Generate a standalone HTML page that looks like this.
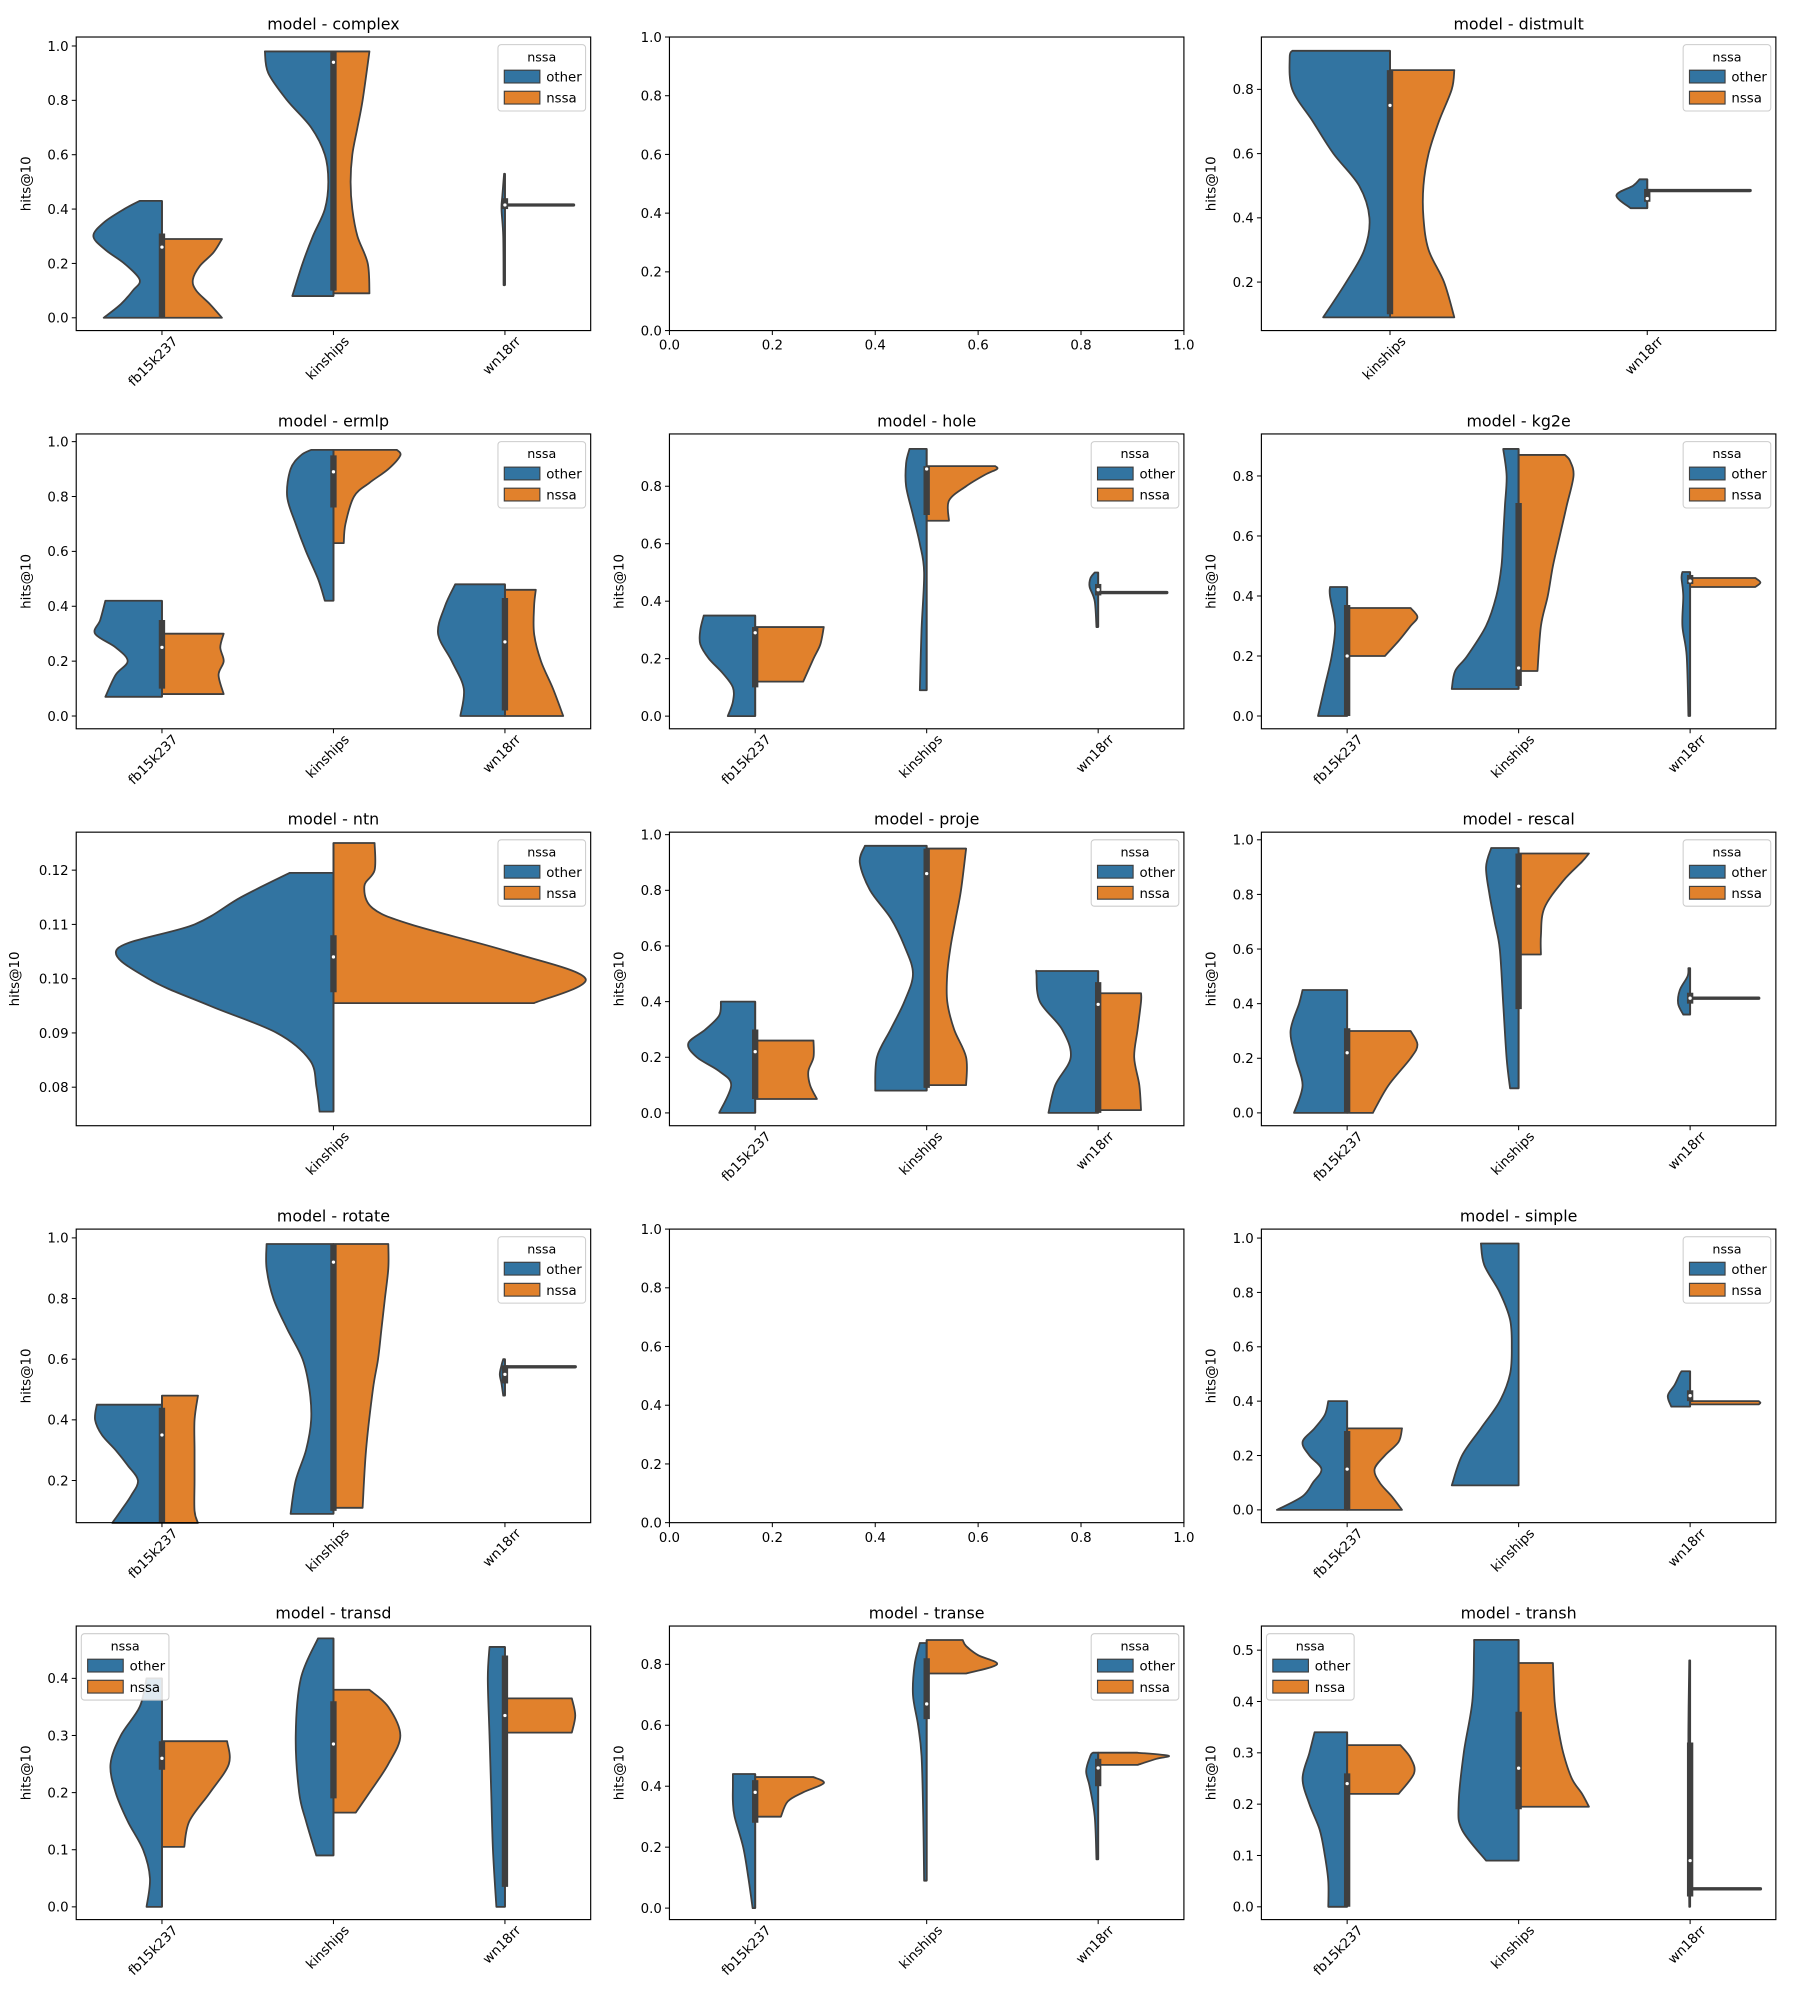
<!DOCTYPE html>
<html><head><meta charset="utf-8"><style>
html,body{margin:0;padding:0;background:#fff;}
svg{display:block;font-family:"DejaVu Sans","Liberation Sans",sans-serif;}
</style></head><body>
<svg id="fig" width="1800" height="2000" viewBox="0 0 1417 1567" preserveAspectRatio="none" xmlns="http://www.w3.org/2000/svg"></svg>
<script>
// ---- data: [value, half-width in category units] profiles ----
const categories3 = ["fb15k237","kinships","wn18rr"];
const complex_other = [[[0,0.34],[0.05,0.24],[0.1,0.17],[0.14,0.13],[0.2,0.22],[0.25,0.33],[0.3,0.4],[0.35,0.34],[0.4,0.22],[0.43,0.13]],[[0.08,0.24],[0.2,0.18],[0.3,0.12],[0.4,0.05],[0.5,0.03],[0.6,0.05],[0.7,0.13],[0.8,0.27],[0.9,0.38],[0.98,0.4]],[[0.12,0.008],[0.3,0.01],[0.4,0.02],[0.45,0.015],[0.53,0.005]]];
const complex_nssa = [[[0,0.35],[0.05,0.28],[0.1,0.2],[0.14,0.18],[0.19,0.22],[0.24,0.3],[0.29,0.35]],[[0.09,0.21],[0.2,0.2],[0.3,0.14],[0.4,0.11],[0.5,0.1],[0.6,0.11],[0.7,0.14],[0.8,0.17],[0.98,0.21]],[[0.415,0.4]]];
const complex_box = [[0,0.31,0.26],[0.1,0.98,0.94],[0.4,0.44,0.415]];
const distmult_cats = ["kinships","wn18rr"];
const distmult_other = [[[0.09,0.26],[0.2,0.17],[0.3,0.1],[0.4,0.08],[0.5,0.12],[0.6,0.22],[0.7,0.3],[0.8,0.38],[0.9,0.39],[0.92,0.38]],[[0.43,0.065],[0.47,0.12],[0.5,0.055],[0.52,0.03]]];
const distmult_nssa = [[[0.09,0.25],[0.2,0.21],[0.3,0.15],[0.4,0.13],[0.5,0.13],[0.6,0.15],[0.7,0.19],[0.8,0.24],[0.86,0.25]],[[0.485,0.4]]];
const distmult_box = [[0.1,0.86,0.75],[0.45,0.49,0.46]];
const ermlp_other = [[[0.07,0.33],[0.15,0.27],[0.2,0.2],[0.25,0.27],[0.3,0.39],[0.35,0.36],[0.42,0.33]],[[0.42,0.05],[0.5,0.09],[0.6,0.16],[0.7,0.22],[0.8,0.27],[0.9,0.25],[0.95,0.19],[0.97,0.13]],[[0,0.26],[0.1,0.24],[0.2,0.31],[0.3,0.39],[0.4,0.35],[0.48,0.29]]];
const ermlp_nssa = [[[0.08,0.36],[0.15,0.33],[0.2,0.36],[0.25,0.34],[0.3,0.36]],[[0.63,0.06],[0.7,0.07],[0.8,0.12],[0.85,0.21],[0.9,0.32],[0.95,0.39],[0.97,0.37]],[[0,0.34],[0.1,0.28],[0.2,0.21],[0.3,0.17],[0.4,0.17],[0.46,0.18]]];
const ermlp_box = [[0.1,0.35,0.25],[0.76,0.95,0.89],[0.02,0.43,0.27]];
const hole_other = [[[0,0.16],[0.05,0.13],[0.1,0.13],[0.15,0.19],[0.2,0.27],[0.25,0.32],[0.3,0.32],[0.35,0.3]],[[0.09,0.04],[0.3,0.03],[0.5,0.015],[0.6,0.04],[0.7,0.08],[0.8,0.12],[0.88,0.12],[0.93,0.1]],[[0.31,0.01],[0.4,0.02],[0.45,0.05],[0.48,0.045],[0.5,0.02]]];
const hole_nssa = [[[0.12,0.28],[0.2,0.34],[0.25,0.38],[0.31,0.4]],[[0.68,0.13],[0.75,0.13],[0.8,0.23],[0.84,0.34],[0.86,0.41],[0.87,0.4]],[[0.43,0.4]]];
const hole_box = [[0.1,0.31,0.29],[0.7,0.87,0.86],[0.42,0.46,0.44]];
const kg2e_other = [[[0,0.17],[0.1,0.13],[0.2,0.09],[0.3,0.07],[0.4,0.1],[0.43,0.1]],[[0.09,0.39],[0.15,0.37],[0.2,0.3],[0.3,0.19],[0.4,0.13],[0.5,0.1],[0.6,0.09],[0.7,0.08],[0.8,0.07],[0.89,0.09]],[[0,0.01],[0.2,0.02],[0.3,0.045],[0.4,0.04],[0.46,0.05],[0.48,0.045]]];
const kg2e_nssa = [[[0.2,0.22],[0.25,0.3],[0.3,0.37],[0.33,0.41],[0.36,0.37]],[[0.15,0.11],[0.3,0.13],[0.4,0.17],[0.5,0.2],[0.6,0.24],[0.7,0.28],[0.8,0.32],[0.85,0.3],[0.87,0.27]],[[0.43,0.38],[0.445,0.41],[0.46,0.38]]];
const kg2e_box = [[0,0.37,0.2],[0.1,0.71,0.16],[0.44,0.47,0.45]];
const ntn_cats = ["kinships"];
const ntn_other = [[[0.0755,0.027],[0.08,0.033],[0.085,0.046],[0.09,0.11],[0.095,0.24],[0.1,0.36],[0.1055,0.42],[0.11,0.27],[0.115,0.18],[0.1195,0.085]]];
const ntn_nssa = [[[0.0955,0.39],[0.1,0.49],[0.105,0.34],[0.11,0.15],[0.113,0.076],[0.117,0.06],[0.12,0.08],[0.125,0.08]]];
const ntn_box = [[0.0975,0.108,0.104]];
const proje_other = [[[0,0.21],[0.1,0.14],[0.15,0.21],[0.2,0.34],[0.25,0.39],[0.3,0.29],[0.35,0.21],[0.4,0.2]],[[0.08,0.3],[0.2,0.29],[0.3,0.21],[0.4,0.13],[0.5,0.08],[0.6,0.13],[0.7,0.21],[0.8,0.33],[0.9,0.39],[0.96,0.36]],[[0,0.29],[0.1,0.25],[0.2,0.16],[0.3,0.21],[0.4,0.34],[0.5,0.36],[0.51,0.36]]];
const proje_nssa = [[[0.05,0.36],[0.1,0.32],[0.15,0.31],[0.2,0.34],[0.26,0.34]],[[0.1,0.23],[0.2,0.23],[0.3,0.16],[0.4,0.12],[0.5,0.12],[0.6,0.14],[0.7,0.17],[0.8,0.2],[0.95,0.23]],[[0.01,0.25],[0.1,0.24],[0.2,0.21],[0.3,0.23],[0.4,0.25],[0.43,0.25]]];
const proje_box = [[0.05,0.3,0.22],[0.09,0.95,0.86],[0,0.47,0.39]];
const rescal_other = [[[0,0.31],[0.1,0.26],[0.2,0.3],[0.3,0.33],[0.4,0.28],[0.45,0.26]],[[0.09,0.05],[0.2,0.07],[0.4,0.09],[0.6,0.11],[0.7,0.14],[0.8,0.17],[0.9,0.19],[0.97,0.16]],[[0.36,0.04],[0.4,0.07],[0.45,0.06],[0.5,0.015],[0.53,0.01]]];
const rescal_nssa = [[[0,0.15],[0.1,0.24],[0.2,0.37],[0.25,0.41],[0.3,0.37]],[[0.58,0.13],[0.65,0.13],[0.75,0.15],[0.85,0.26],[0.92,0.37],[0.95,0.41]],[[0.42,0.4]]];
const rescal_box = [[0,0.31,0.22],[0.38,0.95,0.83],[0.4,0.44,0.42]];
const rotate_other = [[[0.06,0.29],[0.1,0.24],[0.15,0.18],[0.2,0.14],[0.25,0.2],[0.3,0.27],[0.35,0.35],[0.4,0.39],[0.45,0.38]],[[0.09,0.25],[0.2,0.22],[0.3,0.16],[0.4,0.13],[0.5,0.14],[0.6,0.18],[0.7,0.27],[0.8,0.35],[0.9,0.39],[0.98,0.39]],[[0.48,0.01],[0.52,0.02],[0.55,0.03],[0.58,0.02],[0.6,0.01]]];
const rotate_nssa = [[[0.06,0.21],[0.1,0.19],[0.2,0.19],[0.3,0.19],[0.4,0.19],[0.48,0.21]],[[0.11,0.17],[0.3,0.19],[0.5,0.23],[0.6,0.26],[0.7,0.28],[0.8,0.3],[0.9,0.32],[0.98,0.32]],[[0.575,0.41]]];
const rotate_box = [[0.06,0.44,0.35],[0.1,0.98,0.92],[0.52,0.58,0.55]];
const simple_other = [[[0,0.41],[0.05,0.26],[0.1,0.2],[0.15,0.15],[0.2,0.22],[0.25,0.26],[0.3,0.19],[0.35,0.13],[0.4,0.11]],[[0.09,0.39],[0.2,0.33],[0.3,0.22],[0.4,0.11],[0.5,0.05],[0.6,0.04],[0.7,0.05],[0.8,0.11],[0.9,0.2],[0.98,0.22]],[[0.38,0.11],[0.42,0.13],[0.46,0.09],[0.5,0.06],[0.51,0.05]]];
const simple_nssa = [[[0,0.32],[0.05,0.26],[0.1,0.19],[0.15,0.16],[0.2,0.22],[0.25,0.3],[0.3,0.32]],[],[[0.388,0.4],[0.394,0.41],[0.4,0.4]]];
const simple_box = [[0,0.29,0.15],null,[0.4,0.44,0.42]];
const transd_other = [[[0,0.09],[0.05,0.07],[0.1,0.11],[0.15,0.2],[0.2,0.27],[0.25,0.3],[0.3,0.24],[0.35,0.13],[0.4,0.09]],[[0.09,0.1],[0.15,0.16],[0.2,0.2],[0.3,0.22],[0.4,0.19],[0.47,0.09]],[[0,0.05],[0.1,0.07],[0.2,0.08],[0.3,0.09],[0.4,0.1],[0.455,0.09]]];
const transd_nssa = [[[0.105,0.13],[0.15,0.16],[0.2,0.28],[0.25,0.39],[0.29,0.38]],[[0.165,0.13],[0.2,0.21],[0.25,0.32],[0.3,0.39],[0.35,0.32],[0.38,0.21]],[[0.305,0.39],[0.335,0.41],[0.365,0.39]]];
const transd_box = [[0.24,0.29,0.26],[0.19,0.36,0.285],[0.035,0.44,0.335]];
const transe_other = [[[0,0.015],[0.1,0.04],[0.2,0.07],[0.3,0.12],[0.35,0.13],[0.4,0.13],[0.44,0.13]],[[0.09,0.015],[0.3,0.02],[0.5,0.03],[0.6,0.05],[0.7,0.08],[0.8,0.07],[0.87,0.04]],[[0.16,0.01],[0.3,0.02],[0.4,0.05],[0.45,0.07],[0.5,0.045],[0.51,0.03]]];
const transe_nssa = [[[0.3,0.15],[0.35,0.19],[0.38,0.28],[0.41,0.4],[0.43,0.34]],[[0.77,0.23],[0.8,0.41],[0.83,0.3],[0.86,0.23],[0.88,0.21]],[[0.47,0.23],[0.49,0.34],[0.5,0.41],[0.51,0.23]]];
const transe_box = [[0.28,0.42,0.38],[0.62,0.82,0.67],[0.4,0.49,0.46]];
const transh_other = [[[0,0.11],[0.05,0.11],[0.1,0.13],[0.15,0.16],[0.2,0.22],[0.25,0.26],[0.3,0.22],[0.34,0.19]],[[0.09,0.19],[0.15,0.33],[0.2,0.35],[0.3,0.32],[0.4,0.27],[0.5,0.26],[0.52,0.26]],[[0,0.005],[0.2,0.01],[0.35,0.01],[0.48,0.005]]];
const transh_nssa = [[[0.22,0.3],[0.26,0.39],[0.29,0.37],[0.315,0.31]],[[0.195,0.41],[0.22,0.37],[0.25,0.31],[0.3,0.26],[0.35,0.23],[0.4,0.21],[0.475,0.2]],[[0.035,0.41]]];
const transh_box = [[0,0.26,0.24],[0.19,0.38,0.27],[0.02,0.32,0.09]];
const tickFrac = [0,0.2,0.4,0.6,0.8,1.0];

const C1=[60,465], C2=[527,932], C3=[993,1398];
const R=[[29,259],[340,571],[652,882],[963,1193],[1274,1504]];
const panels = [
 {name:"complex",col:C1,row:R[0],ylim:[-0.047,1.033],ticks:[0,0.2,0.4,0.6,0.8,1.0],dec:1,cats:categories3,o:complex_other,n:complex_nssa,b:complex_box,leg:"r"},
 {name:null,col:C2,row:R[0]},
 {name:"distmult",col:C3,row:R[0],ylim:[0.049,0.963],ticks:[0.2,0.4,0.6,0.8],dec:1,cats:distmult_cats,o:distmult_other,n:distmult_nssa,b:distmult_box,leg:"r"},
 {name:"ermlp",col:C1,row:R[1],ylim:[-0.0465,1.028],ticks:[0,0.2,0.4,0.6,0.8,1.0],dec:1,cats:categories3,o:ermlp_other,n:ermlp_nssa,b:ermlp_box,leg:"r"},
 {name:"hole",col:C2,row:R[1],ylim:[-0.044,0.982],ticks:[0,0.2,0.4,0.6,0.8],dec:1,cats:categories3,o:hole_other,n:hole_nssa,b:hole_box,leg:"r"},
 {name:"kg2e",col:C3,row:R[1],ylim:[-0.0426,0.94],ticks:[0,0.2,0.4,0.6,0.8],dec:1,cats:categories3,o:kg2e_other,n:kg2e_nssa,b:kg2e_box,leg:"r"},
 {name:"ntn",col:C1,row:R[2],ylim:[0.0729,0.127],ticks:[0.08,0.09,0.10,0.11,0.12],dec:2,cats:ntn_cats,o:ntn_other,n:ntn_nssa,b:ntn_box,leg:"r",ylx:15},
 {name:"proje",col:C2,row:R[2],ylim:[-0.046,1.009],ticks:[0,0.2,0.4,0.6,0.8,1.0],dec:1,cats:categories3,o:proje_other,n:proje_nssa,b:proje_box,leg:"r"},
 {name:"rescal",col:C3,row:R[2],ylim:[-0.047,1.028],ticks:[0,0.2,0.4,0.6,0.8,1.0],dec:1,cats:categories3,o:rescal_other,n:rescal_nssa,b:rescal_box,leg:"r"},
 {name:"rotate",col:C1,row:R[3],ylim:[0.061,1.029],ticks:[0.2,0.4,0.6,0.8,1.0],dec:1,cats:categories3,o:rotate_other,n:rotate_nssa,b:rotate_box,leg:"r"},
 {name:null,col:C2,row:R[3]},
 {name:"simple",col:C3,row:R[3],ylim:[-0.047,1.033],ticks:[0,0.2,0.4,0.6,0.8,1.0],dec:1,cats:categories3,o:simple_other,n:simple_nssa,b:simple_box,leg:"r"},
 {name:"transd",col:C1,row:R[4],ylim:[-0.0223,0.4916],ticks:[0,0.1,0.2,0.3,0.4],dec:1,cats:categories3,o:transd_other,n:transd_nssa,b:transd_box,leg:"l"},
 {name:"transe",col:C2,row:R[4],ylim:[-0.0377,0.9257],ticks:[0,0.2,0.4,0.6,0.8],dec:1,cats:categories3,o:transe_other,n:transe_nssa,b:transe_box,leg:"r"},
 {name:"transh",col:C3,row:R[4],ylim:[-0.0249,0.547],ticks:[0,0.1,0.2,0.3,0.4,0.5],dec:1,cats:categories3,o:transh_other,n:transh_nssa,b:transh_box,leg:"l"}
];
const NS="http://www.w3.org/2000/svg";
const svg=document.getElementById('fig');
function el(tag,attrs,parent,text){const e=document.createElementNS(NS,tag);for(const k in attrs)e.setAttribute(k,attrs[k]);if(text!==undefined)e.textContent=text;(parent||svg).appendChild(e);return e;}
const BLUE="#3274a1",ORANGE="#e1812c",EDGE="#3f3f3f";

// smooth curve through points (Catmull-Rom -> cubic Bezier)
function smoothPath(pts){
  let d='';
  for(let i=0;i<pts.length-1;i++){
    const p0=pts[Math.max(i-1,0)],p1=pts[i],p2=pts[i+1],p3=pts[Math.min(i+2,pts.length-1)];
    const c1=[p1[0]+(p2[0]-p0[0])/6,p1[1]+(p2[1]-p0[1])/6];
    const c2=[p2[0]-(p3[0]-p1[0])/6,p2[1]-(p3[1]-p1[1])/6];
    d+=` C${c1[0]},${c1[1]} ${c2[0]},${c2[1]} ${p2[0]},${p2[1]}`;
  }
  return d;
}

panels.forEach((p,pi)=>{
  const g=el('g',{});
  
  
  const x0=p.col[0],x1=p.col[1],y0=p.row[0],y1=p.row[1];
  if(!p.name){
    const sx=v=>x0+v*(x1-x0), sy=v=>y1-v*(y1-y0);
    tickFrac.forEach(t=>{
      el('line',{x1:x0,x2:x0-3.5,y1:sy(t),y2:sy(t),stroke:"#000","stroke-width":0.8},g);
      const yl=el('text',{x:x0-6,y:sy(t)+3.8,"font-size":10.5,"text-anchor":"end"},g,t.toFixed(1));
      
      
      el('line',{x1:sx(t),x2:sx(t),y1:y1,y2:y1+3.5,stroke:"#000","stroke-width":0.8},g);
      const xl=el('text',{x:sx(t),y:y1+15,"font-size":10.5,"text-anchor":"middle"},g,t.toFixed(1));
      
      
    });
    el('rect',{x:x0,y:y0,width:x1-x0,height:y1-y0,fill:"none",stroke:"#000","stroke-width":0.9},g);
    return;
  }
  const n=p.cats.length, unit=(x1-x0)/n;
  const cx=i=>x0+(i+0.5)*unit;
  const sy=v=>y1-(v-p.ylim[0])/(p.ylim[1]-p.ylim[0])*(y1-y0);
  const t=el('text',{x:(x0+x1)/2,y:y0-6,"font-size":12.5,"text-anchor":"middle"},g,"model - "+p.name);
  
  
  p.ticks.forEach(v=>{
    el('line',{x1:x0,x2:x0-3.5,y1:sy(v),y2:sy(v),stroke:"#000","stroke-width":0.8},g);
    const yl=el('text',{x:x0-6,y:sy(v)+3.8,"font-size":10.5,"text-anchor":"end"},g,v.toFixed(p.dec));
    
    
  });
  const ylx=p.ylx||(x0-36);
  const ylab=el('text',{x:ylx,y:(y0+y1)/2,"font-size":10.5,"text-anchor":"middle",transform:`rotate(-90 ${ylx} ${(y0+y1)/2})`},g,"hits@10");
  
  
  function half(prof,i,side,color,label){
    if(!prof||!prof.length)return;
    const c=cx(i);
    let e;
    if(prof.length===1){
      const y=sy(prof[0][0]);
      e=el('line',{x1:c,x2:c+side*prof[0][1]*unit,y1:y,y2:y,stroke:EDGE,"stroke-width":2.6,"stroke-linecap":"round"},g);
    } else {
      const pts=prof.map(pt=>[c+side*pt[1]*unit,sy(pt[0])]);
      let d=`M${c},${pts[0][1]} L${pts[0][0]},${pts[0][1]}`;
      d+=smoothPath(pts);
      d+=` L${c},${pts[pts.length-1][1]} Z`;
      e=el('path',{d:d,fill:color,stroke:EDGE,"stroke-width":1.4,"stroke-linejoin":"round"},g);
    }
    
    
  }
  p.cats.forEach((c,i)=>{
    half(p.o[i],i,-1,BLUE,'other');
    half(p.n[i],i,1,ORANGE,'nssa');
    const b=p.b[i];
    if(b){
      const cxx=cx(i);
      const lo=Math.min(...(p.o[i]||[]).map(q=>q[0]).concat((p.n[i]||[]).map(q=>q[0])));
      const hi=Math.max(...(p.o[i]||[]).map(q=>q[0]).concat((p.n[i]||[]).map(q=>q[0])));
      el('line',{x1:cxx,x2:cxx,y1:sy(lo),y2:sy(hi),stroke:EDGE,"stroke-width":1.5},g);
      const bx=el('line',{x1:cxx,x2:cxx,y1:sy(b[0]),y2:sy(b[1]),stroke:EDGE,"stroke-width":5},g);
      
      
      el('circle',{cx:cxx,cy:sy(b[2]),r:1.3,fill:"#fff"},g);
    }
    el('line',{x1:cx(i),x2:cx(i),y1:y1,y2:y1+3.5,stroke:"#000","stroke-width":0.8},g);
    const tx=cx(i)+13, ty=y1+9;
    const xl=el('text',{x:tx,y:ty,"font-size":10.5,"text-anchor":"end",transform:`rotate(-45 ${tx} ${ty})`},g,c);
    
    
  });
  el('rect',{x:x0,y:y0,width:x1-x0,height:y1-y0,fill:"none",stroke:"#000","stroke-width":0.9},g);
  const lx=p.leg==="r"?x1-73:x0+4, ly=y0+6;
  const lg=el('g',{},g);
  
  
  el('rect',{x:lx,y:ly,width:69,height:52,rx:2.5,fill:"#fff","fill-opacity":0.85,stroke:"#ccc","stroke-width":0.8},lg);
  el('text',{x:lx+34.5,y:ly+13,"font-size":10,"text-anchor":"middle"},lg,"nssa");
  [["other",BLUE],["nssa",ORANGE]].forEach((en,k)=>{
    const ey=ly+20+k*16.5;
    const ent=el('g',{},lg);
    
    
    el('rect',{x:lx+5,y:ey,width:28,height:10,fill:en[1],stroke:EDGE,"stroke-width":0.9},ent);
    el('text',{x:lx+38,y:ey+9,"font-size":10.5},ent,en[0]);
  });
});
</script>
</body></html>
